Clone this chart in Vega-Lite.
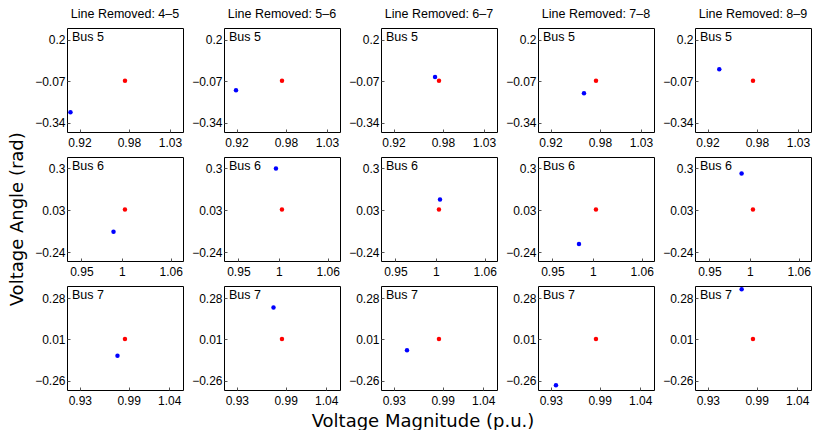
{
  "$schema": "https://vega.github.io/schema/vega-lite/v6.json",
  "background": "white",
  "padding": {"left": 9, "top": 7, "right": 5, "bottom": 0},
  "config": {
    "view": {"stroke": "black", "strokeWidth": 1},
    "axis": {"domain": false, "grid": false, "tickSize": -3, "tickColor": "#555", "labelFont": "Liberation Sans", "labelFontSize": 12, "labelColor": "black", "format": ".2~f"},
    "axisX": {"labelPadding": 8},
    "axisY": {"labelPadding": 5},
    "title": {"font": "DejaVu Sans", "fontSize": 18, "fontWeight": "normal", "color": "black"}
  },
  "datasets": {
    "pts": [
      {"bus": "Bus 5", "line": "4–5", "state": "post", "vm": 0.909, "va": -0.273},
      {"bus": "Bus 5", "line": "5–6", "state": "post", "vm": 0.9194, "va": -0.129},
      {"bus": "Bus 5", "line": "6–7", "state": "post", "vm": 0.9705, "va": -0.043},
      {"bus": "Bus 5", "line": "7–8", "state": "post", "vm": 0.9607, "va": -0.148},
      {"bus": "Bus 5", "line": "8–9", "state": "post", "vm": 0.9343, "va": 0.009},
      {"bus": "Bus 6", "line": "4–5", "state": "post", "vm": 0.9896, "va": -0.108},
      {"bus": "Bus 6", "line": "5–6", "state": "post", "vm": 0.9963, "va": 0.2995},
      {"bus": "Bus 6", "line": "6–7", "state": "post", "vm": 1.005, "va": 0.1},
      {"bus": "Bus 6", "line": "7–8", "state": "post", "vm": 0.9828, "va": -0.187},
      {"bus": "Bus 6", "line": "8–9", "state": "post", "vm": 0.9897, "va": 0.267},
      {"bus": "Bus 7", "line": "4–5", "state": "post", "vm": 0.9763, "va": -0.096},
      {"bus": "Bus 7", "line": "5–6", "state": "post", "vm": 0.9751, "va": 0.219},
      {"bus": "Bus 7", "line": "6–7", "state": "post", "vm": 0.9462, "va": -0.061},
      {"bus": "Bus 7", "line": "7–8", "state": "post", "vm": 0.9363, "va": -0.29},
      {"bus": "Bus 7", "line": "8–9", "state": "post", "vm": 0.9716, "va": 0.338},
      {"bus": "Bus 5", "line": "4–5", "state": "base", "vm": 0.9753, "va": -0.067},
      {"bus": "Bus 5", "line": "5–6", "state": "base", "vm": 0.9753, "va": -0.067},
      {"bus": "Bus 5", "line": "6–7", "state": "base", "vm": 0.9753, "va": -0.067},
      {"bus": "Bus 5", "line": "7–8", "state": "base", "vm": 0.9753, "va": -0.067},
      {"bus": "Bus 5", "line": "8–9", "state": "base", "vm": 0.9753, "va": -0.067},
      {"bus": "Bus 6", "line": "4–5", "state": "base", "vm": 1.0037, "va": 0.036},
      {"bus": "Bus 6", "line": "5–6", "state": "base", "vm": 1.0037, "va": 0.036},
      {"bus": "Bus 6", "line": "6–7", "state": "base", "vm": 1.0037, "va": 0.036},
      {"bus": "Bus 6", "line": "7–8", "state": "base", "vm": 1.0037, "va": 0.036},
      {"bus": "Bus 6", "line": "8–9", "state": "base", "vm": 1.0037, "va": 0.036},
      {"bus": "Bus 7", "line": "4–5", "state": "base", "vm": 0.9855, "va": 0.013},
      {"bus": "Bus 7", "line": "5–6", "state": "base", "vm": 0.9855, "va": 0.013},
      {"bus": "Bus 7", "line": "6–7", "state": "base", "vm": 0.9855, "va": 0.013},
      {"bus": "Bus 7", "line": "7–8", "state": "base", "vm": 0.9855, "va": 0.013},
      {"bus": "Bus 7", "line": "8–9", "state": "base", "vm": 0.9855, "va": 0.013}
    ]
  },
  "title": {"text": "Voltage Angle (rad)", "orient": "left", "anchor": "middle", "offset": 7},
  "spacing": 7,
  "vconcat": [
    {
      "data": {"name": "pts"},
      "transform": [{"filter": "datum.bus == 'Bus 5'"}],
      "facet": {"column": {"field": "line", "type": "nominal", "header": {"title": null, "labelExpr": "'Line Removed: ' + datum.value", "labelFont": "Liberation Sans", "labelFontSize": 12.5, "labelColor": "black", "labelPadding": 8}}},
      "spacing": 41,
      "bounds": "flush",
      "resolve": {"axis": {"x": "independent", "y": "independent"}},
      "spec": {
        "width": 116, "height": 104,
        "layer": [
          {
            "mark": {"type": "circle", "size": 20, "opacity": 1},
            "encoding": {
              "x": {"field": "vm", "type": "quantitative", "title": null, "scale": {"domain": [0.9048, 1.0458], "nice": false, "zero": false}, "axis": {"values": [0.92, 0.98, 1.03]}},
              "y": {"field": "va", "type": "quantitative", "title": null, "scale": {"domain": [-0.402, 0.278], "nice": false, "zero": false}, "axis": {"values": [0.2, -0.07, -0.34]}},
              "color": {"field": "state", "type": "nominal", "scale": {"domain": ["base", "post"], "range": ["#ff0000", "#0000ff"]}, "legend": null}
            }
          },
          {
            "transform": [{"filter": "datum.state == 'base'"}],
            "mark": {"type": "text", "align": "left", "baseline": "top", "dx": 5, "dy": 3, "font": "Liberation Sans", "fontSize": 12.5, "color": "black"},
            "encoding": {"x": {"datum": 0.9048}, "y": {"datum": 0.278}, "text": {"field": "bus"}}
          }
        ]
      }
    },
    {
      "data": {"name": "pts"},
      "transform": [{"filter": "datum.bus == 'Bus 6'"}],
      "facet": {"column": {"field": "line", "type": "nominal", "header": {"title": null, "labels": false}}},
      "spacing": 41,
      "bounds": "flush",
      "resolve": {"axis": {"x": "independent", "y": "independent"}},
      "spec": {
        "width": 116, "height": 104,
        "layer": [
          {
            "mark": {"type": "circle", "size": 20, "opacity": 1},
            "encoding": {
              "x": {"field": "vm", "type": "quantitative", "title": null, "scale": {"domain": [0.9323, 1.0752], "nice": false, "zero": false}, "axis": {"values": [0.95, 1, 1.06]}},
              "y": {"field": "va", "type": "quantitative", "title": null, "scale": {"domain": [-0.296, 0.374], "nice": false, "zero": false}, "axis": {"values": [0.3, 0.03, -0.24]}},
              "color": {"field": "state", "type": "nominal", "scale": {"domain": ["base", "post"], "range": ["#ff0000", "#0000ff"]}, "legend": null}
            }
          },
          {
            "transform": [{"filter": "datum.state == 'base'"}],
            "mark": {"type": "text", "align": "left", "baseline": "top", "dx": 5, "dy": 3, "font": "Liberation Sans", "fontSize": 12.5, "color": "black"},
            "encoding": {"x": {"datum": 0.9323}, "y": {"datum": 0.374}, "text": {"field": "bus"}}
          }
        ]
      }
    },
    {
      "data": {"name": "pts"},
      "transform": [{"filter": "datum.bus == 'Bus 7'"}],
      "facet": {"column": {"field": "line", "type": "nominal", "header": {"title": "Voltage Magnitude (p.u.)", "titleOrient": "bottom", "labels": false, "titleFont": "DejaVu Sans", "titleFontSize": 18, "titleFontWeight": "normal", "titleColor": "black", "titlePadding": 13}}},
      "spacing": 41,
      "bounds": "flush",
      "resolve": {"axis": {"x": "independent", "y": "independent"}},
      "spec": {
        "width": 116, "height": 104,
        "layer": [
          {
            "mark": {"type": "circle", "size": 20, "opacity": 1},
            "encoding": {
              "x": {"field": "vm", "type": "quantitative", "title": null, "scale": {"domain": [0.9142, 1.0569], "nice": false, "zero": false}, "axis": {"values": [0.93, 0.99, 1.04]}},
              "y": {"field": "va", "type": "quantitative", "title": null, "scale": {"domain": [-0.3204, 0.3596], "nice": false, "zero": false}, "axis": {"values": [0.28, 0.01, -0.26]}},
              "color": {"field": "state", "type": "nominal", "scale": {"domain": ["base", "post"], "range": ["#ff0000", "#0000ff"]}, "legend": null}
            }
          },
          {
            "transform": [{"filter": "datum.state == 'base'"}],
            "mark": {"type": "text", "align": "left", "baseline": "top", "dx": 5, "dy": 3, "font": "Liberation Sans", "fontSize": 12.5, "color": "black"},
            "encoding": {"x": {"datum": 0.9142}, "y": {"datum": 0.3596}, "text": {"field": "bus"}}
          }
        ]
      }
    }
  ]
}
